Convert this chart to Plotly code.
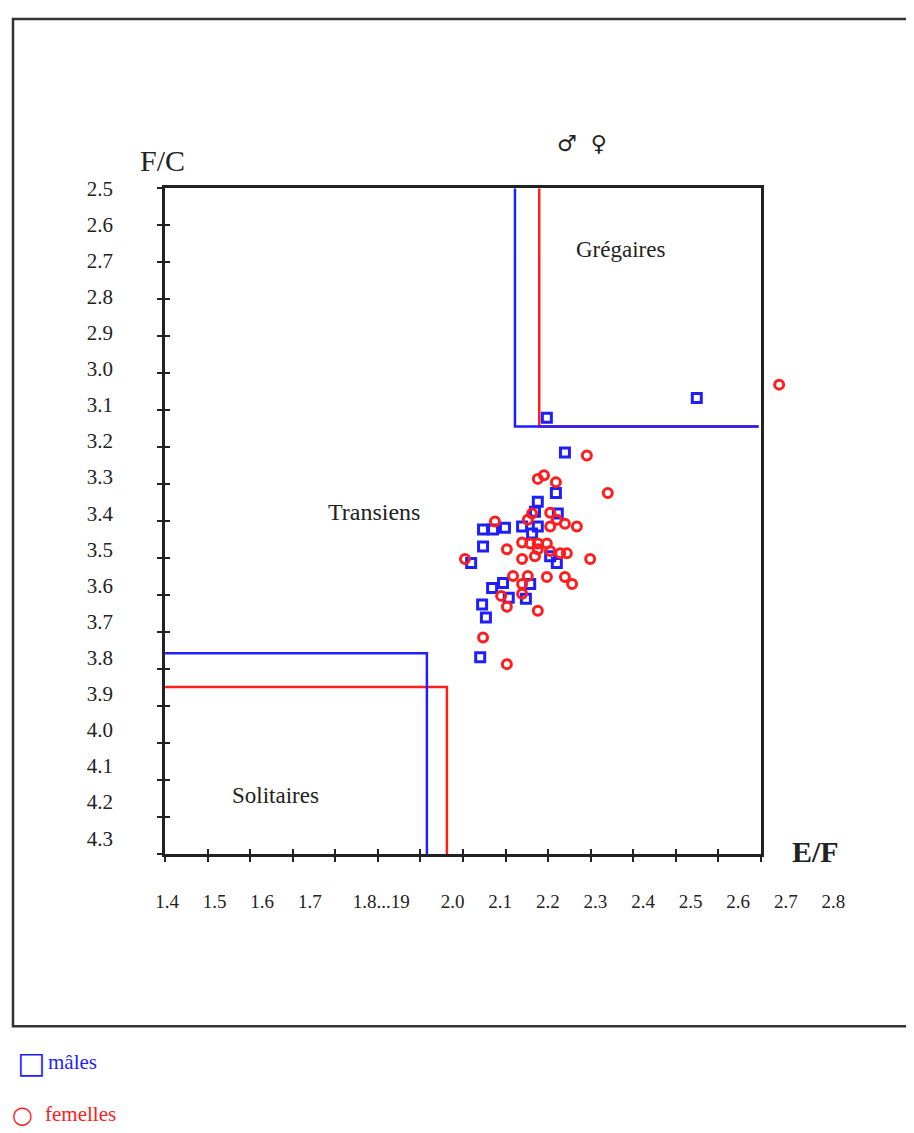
import plotly.graph_objects as go

# ---------------- data ----------------
males_ef = [2.198, 2.513, 2.236, 2.217, 2.179, 2.221, 2.173, 2.064, 2.085, 2.110,
            2.146, 2.179, 2.167, 2.064, 2.039, 2.205, 2.219, 2.083, 2.106, 2.163,
            2.118, 2.154, 2.062, 2.070, 2.058]
males_fc = [3.136, 3.081, 3.232, 3.344, 3.368, 3.401, 3.396, 3.445, 3.445, 3.440,
            3.437, 3.437, 3.456, 3.492, 3.538, 3.519, 3.538, 3.607, 3.593, 3.596,
            3.634, 3.637, 3.653, 3.689, 3.799]

females_ef = [2.686, 2.282, 2.179, 2.192, 2.217, 2.326, 2.167, 2.205, 2.158, 2.219,
              2.236, 2.261, 2.205, 2.089, 2.114, 2.146, 2.163, 2.179, 2.198, 2.179,
              2.205, 2.226, 2.240, 2.146, 2.289, 2.026, 2.173, 2.127, 2.158, 2.198,
              2.236, 2.251, 2.146, 2.102, 2.146, 2.114, 2.179, 2.064, 2.114]
females_fc = [3.044, 3.240, 3.305, 3.295, 3.314, 3.344, 3.401, 3.399, 3.418, 3.418,
              3.429, 3.437, 3.437, 3.423, 3.500, 3.481, 3.484, 3.484, 3.484, 3.500,
              3.505, 3.511, 3.511, 3.527, 3.527, 3.527, 3.519, 3.574, 3.574, 3.577,
              3.577, 3.596, 3.596, 3.629, 3.623, 3.659, 3.670, 3.744, 3.818]

# phase boundaries (E/F, F/C)
greg_male_ef = [2.131, 2.131, 2.643]
greg_male_fc = [2.5, 3.160, 3.160]
greg_female_ef = [2.182, 2.182, 2.643]
greg_female_fc = [2.5, 3.160, 3.160]
sol_male_ef = [1.396, 1.946, 1.946]
sol_male_fc = [3.788, 3.788, 4.344]
sol_female_ef = [1.396, 1.988, 1.988]
sol_female_fc = [3.881, 3.881, 4.344]

x_tick_vals = [1.4, 1.5, 1.6, 1.7, 1.85, 2.0, 2.1, 2.2, 2.3, 2.4, 2.5, 2.6, 2.7, 2.8]
x_tick_text = ["1.4", "1.5", "1.6", "1.7", "1.8...19", "2.0", "2.1", "2.2", "2.3",
               "2.4", "2.5", "2.6", "2.7", "2.8"]
y_tick_vals = [2.5, 2.6, 2.7, 2.8, 2.9, 3.0, 3.1, 3.2, 3.3, 3.4, 3.5, 3.6, 3.7, 3.8,
               3.9, 4.0, 4.1, 4.2, 4.3]
y_tick_text = ["%.1f" % v for v in y_tick_vals]

# ---------------- layout helpers ----------------
PAGE_OFF = 8          # browser body margin around the plot div
W, H = 914 - PAGE_OFF, 1133 - PAGE_OFF

def fx(p):            # page pixel -> paper x
    return (p - PAGE_OFF) / W
def fy(p):            # page pixel -> paper y
    return 1 - (p - PAGE_OFF) / H

SERIF = "Liberation Serif, Times New Roman, serif"
BLUE = "#1e1eff"
RED = "#ff1e1e"
DARK = "#222222"

X_PX0, X_SCALE = 167.0, 476.0     # page pixel of E/F 1.4, pixels per unit
Y_PX0, Y_SCALE = 178.0, 365.0     # page pixel of F/C 2.5, pixels per unit
PLOT_TOP, PLOT_BOTTOM = 178, 851
BOX_LEFT, BOX_RIGHT = 165, 761

fig = go.Figure()

for ex, fc, col in [(greg_female_ef, greg_female_fc, RED),
                    (greg_male_ef, greg_male_fc, BLUE),
                    (sol_female_ef, sol_female_fc, RED),
                    (sol_male_ef, sol_male_fc, BLUE)]:
    fig.add_trace(go.Scatter(x=ex, y=fc, mode="lines",
                             line=dict(color=col, width=2.5),
                             showlegend=False, hoverinfo="skip",
                             xaxis="x", yaxis="y"))

fig.add_trace(go.Scatter(x=males_ef, y=males_fc, mode="markers", name="mâles",
                         marker=dict(symbol="square-open", size=9, color=BLUE,
                                     line=dict(width=3, color=BLUE)),
                         showlegend=False, cliponaxis=False,
                         xaxis="x", yaxis="y"))
fig.add_trace(go.Scatter(x=females_ef, y=females_fc, mode="markers", name="femelles",
                         marker=dict(symbol="circle-open", size=9, color=RED,
                                     line=dict(width=3, color=RED)),
                         showlegend=False, cliponaxis=False,
                         xaxis="x", yaxis="y"))

for xa, ya in [("x2", "y2"), ("x3", "y3")]:
    fig.add_trace(go.Scatter(x=[None], y=[None], xaxis=xa, yaxis=ya,
                             showlegend=False, hoverinfo="skip"))

y_dom = [fy(PLOT_BOTTOM), fy(PLOT_TOP)]
x_frame_dom = [fx(BOX_LEFT), fx(BOX_RIGHT)]

fig.update_layout(
    width=W, height=H, autosize=False,
    margin=dict(l=0, r=0, t=0, b=0, pad=0),
    paper_bgcolor="white", plot_bgcolor="rgba(0,0,0,0)",
    showlegend=False,
    xaxis=dict(domain=[0, 1],
               range=[1.4 - (X_PX0 - PAGE_OFF) / X_SCALE,
                      1.4 + (PAGE_OFF + W - X_PX0) / X_SCALE],
               anchor="y", showline=False, showgrid=False, zeroline=False,
               ticks="", tickmode="array", tickvals=x_tick_vals, ticktext=x_tick_text,
               ticklabelstandoff=34,
               tickfont=dict(family=SERIF, size=19, color=DARK)),
    yaxis=dict(domain=y_dom,
               range=[2.5 + (PLOT_BOTTOM - Y_PX0) / Y_SCALE, 2.5],
               anchor="free", position=fx(BOX_LEFT),
               showline=False, showgrid=False, zeroline=False,
               ticks="", tickmode="array", tickvals=y_tick_vals, ticktext=y_tick_text,
               ticklabelstandoff=52,
               tickfont=dict(family=SERIF, size=21, color=DARK)),
    xaxis2=dict(domain=x_frame_dom, range=[0, 14], anchor="y2",
                showline=True, linewidth=3, linecolor=DARK, mirror=True,
                ticks="outside", ticklen=5, tickwidth=2, tickcolor=DARK,
                tickmode="array", tickvals=list(range(15)),
                showticklabels=False, showgrid=False, zeroline=False, fixedrange=True),
    yaxis2=dict(domain=y_dom, range=[18, 0], anchor="x2",
                showline=True, linewidth=3, linecolor=DARK, mirror=True,
                ticks="outside", ticklen=5, tickwidth=2, tickcolor=DARK,
                tickmode="array", tickvals=list(range(19)),
                showticklabels=False, showgrid=False, zeroline=False, fixedrange=True),
    xaxis3=dict(domain=x_frame_dom, range=[0, 14], anchor="y3",
                showline=False, ticks="inside", ticklen=5, tickwidth=2, tickcolor=DARK,
                tickmode="array", tickvals=list(range(15)),
                showticklabels=False, showgrid=False, zeroline=False, fixedrange=True),
    yaxis3=dict(domain=y_dom, range=[18, 0], anchor="x3",
                showline=False, ticks="inside", ticklen=5, tickwidth=2, tickcolor=DARK,
                tickmode="array", tickvals=list(range(19)),
                showticklabels=False, showgrid=False, zeroline=False, fixedrange=True),
)

# outer frame (its right edge lies beyond the page)
fig.add_shape(type="rect", xref="paper", yref="paper",
              x0=fx(13), x1=1.02, y0=fy(1025), y1=fy(7),
              line=dict(color="#333333", width=2.5), fillcolor="rgba(0,0,0,0)",
              layer="below")

def note(text, px, py, size, color=DARK, family=SERIF, xanchor="center"):
    fig.add_annotation(text=text, x=fx(px), y=fy(py), xref="paper", yref="paper",
                       showarrow=False, xanchor=xanchor, yanchor="middle",
                       font=dict(family=family, size=size, color=color))

note("F/C", 162, 150, 30)
note("<b>E/F</b>", 815, 848, 30)
note("♂  ♀", 582, 133, 22, family="DejaVu Sans")
note("Grégaires", 620, 240, 23)
note("Transiens", 374, 505, 24)
note("Solitaires", 275, 792, 23)

# legend (below the frame)
note("□", 31, 1062, 30, color=BLUE, family="DejaVu Sans")
note("mâles", 46, 1061, 21, color=BLUE, xanchor="left")
note("○", 22, 1115, 24, color=RED, family="DejaVu Sans")
note("femelles", 43, 1114, 21, color=RED, xanchor="left")

fig.write_html("out.html")
